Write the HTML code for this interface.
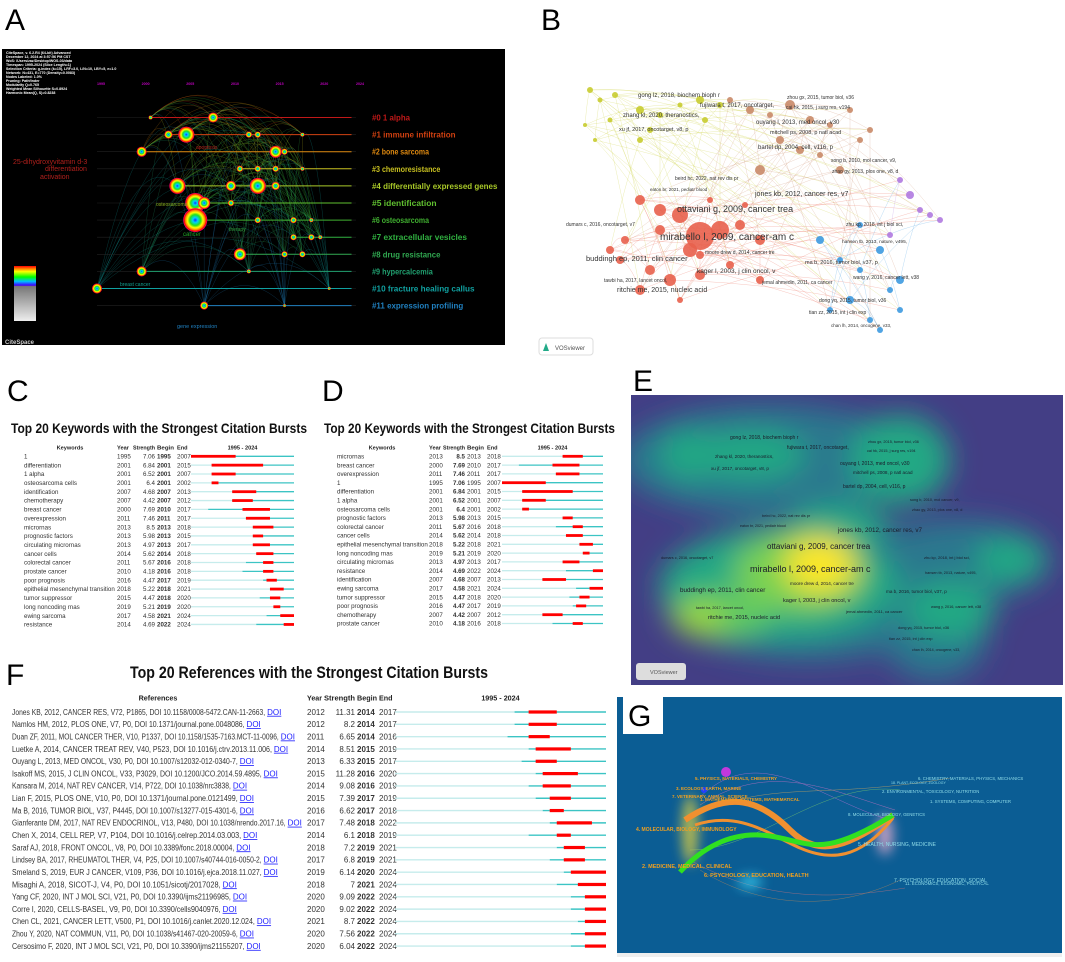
<!DOCTYPE html>
<html><head><meta charset="utf-8">
<style>
html,body{margin:0;padding:0;background:#fff;}
svg{display:block;font-family:"Liberation Sans",sans-serif;}
</style></head>
<body>
<svg id="fig" width="1065" height="962" viewBox="0 0 1065 962" xmlns="http://www.w3.org/2000/svg">
<defs>
  <radialGradient id="ring">
    <stop offset="0" stop-color="#1030ff"/><stop offset="0.2" stop-color="#00d0ff"/>
    <stop offset="0.45" stop-color="#20e020"/><stop offset="0.65" stop-color="#ffff00"/>
    <stop offset="0.82" stop-color="#ff8000"/><stop offset="0.92" stop-color="#ff0000"/><stop offset="1" stop-color="#ff00a0"/>
  </radialGradient>
  <linearGradient id="legendbar" x1="0" y1="0" x2="0" y2="1">
    <stop offset="0" stop-color="#ff0000"/><stop offset="0.1" stop-color="#ffff00"/><stop offset="0.2" stop-color="#00ff00"/>
    <stop offset="0.28" stop-color="#00c0ff"/><stop offset="0.35" stop-color="#4000ff"/><stop offset="0.37" stop-color="#777"/><stop offset="1" stop-color="#eee"/>
  </linearGradient>
  <filter id="blur"><feGaussianBlur stdDeviation="14"/></filter>
  <filter id="blur2"><feGaussianBlur stdDeviation="6"/></filter>
  <clipPath id="clipE"><rect x="631" y="395" width="432" height="290"/></clipPath>
  <clipPath id="clipG"><rect x="617" y="697" width="445" height="256"/></clipPath>
</defs>

<g font-size="30" fill="#000">
<text x="5" y="30">A</text>
<text x="541" y="30">B</text>
<text x="7" y="401">C</text>
<text x="322" y="401">D</text>
<text x="633" y="391">E</text>
<text x="6" y="685">F</text>
</g>

<g id="panelA">
  <rect x="2" y="49" width="503" height="296" fill="#000"/>
  <g fill="#fff" font-size="3.6" font-weight="bold">
    <text x="6" y="54">CiteSpace, v. 6.2.R4 (64-bit) Advanced</text>
    <text x="6" y="58">December 12, 2024 at 3:57:56 PM CST</text>
    <text x="6" y="62">WoS: /Users/zaz/Desktop/WOS-03/data</text>
    <text x="6" y="66">Timespan: 1995-2024 (Slice Length=1)</text>
    <text x="6" y="70">Selection Criteria: g-index (k=15), LRF=3.0, L/N=10, LBY=5, e=1.0</text>
    <text x="6" y="74">Network: N=431, E=770 (Density=0.0083)</text>
    <text x="6" y="78">Nodes Labeled: 1.0%</text>
    <text x="6" y="82">Pruning: Pathfinder</text>
    <text x="6" y="86">Modularity Q=0.765</text>
    <text x="6" y="90">Weighted Mean Silhouette S=0.8924</text>
    <text x="6" y="94">Harmonic Mean(Q, S)=0.8238</text>
  </g>
  <g id="aYears" fill="#c000c0" font-size="3.6" font-weight="bold"></g>
  <g id="aArcs" fill="none"></g>
  <g id="aRows"></g>
  <g id="aNodes"></g>
  <g id="aLabels" font-size="8.5" font-weight="bold"></g>
  <g font-size="7.5">
    <text x="13" y="164" fill="#b0201c" font-size="7">25-dihydroxyvitamin d-3</text>
    <text x="45" y="171" fill="#b0201c" font-size="7">differentiation</text>
    <text x="40" y="179" fill="#b0201c" font-size="7">activation</text>
    <text x="196" y="149" fill="#b0201c" font-size="5">apoptosis</text>
    <text x="156" y="206" fill="#8ab020" font-size="5">osteosarcoma</text>
    <text x="183" y="236" fill="#20a020" font-size="6">cancer</text>
    <text x="229" y="231" fill="#30a040" font-size="5">therapy</text>
    <text x="120" y="286" fill="#10a090" font-size="5">breast cancer</text>
    <text x="177" y="328" fill="#2080c0" font-size="5.5">gene expression</text>
  </g>
  <rect x="14" y="266" width="22" height="55" fill="url(#legendbar)"/>
  <text x="5" y="344" fill="#ccc" font-size="6" font-weight="bold">CiteSpace</text>
</g>

<g id="panelB">
  <g id="bEdges" fill="none" stroke-width="0.4"></g>
  <g id="bNodes"></g>
  <g id="bLabels" fill="#333"></g>
  <rect x="539" y="338" width="54" height="17" rx="3" fill="#fff" stroke="#ddd"/>
  <text x="555" y="350" font-size="6" fill="#555">VOSviewer</text>
  <path d="M543 351 L546 343 L549 351 Z" fill="#2a8"/>
</g>

<g id="panelC"></g>
<g id="panelD"></g>

<g id="panelE">
  <rect x="631" y="395" width="432" height="290" fill="#433e85"/>
  <g clip-path="url(#clipE)">
    <g filter="url(#blur)">
      <ellipse cx="770" cy="460" rx="150" ry="55" fill="#2a788e"/>
      <ellipse cx="810" cy="590" rx="150" ry="70" fill="#2a788e"/>
      <ellipse cx="960" cy="560" rx="90" ry="40" fill="#2a788e"/>
      <ellipse cx="935" cy="640" rx="50" ry="40" fill="#2a788e"/>
      <ellipse cx="690" cy="455" rx="30" ry="25" fill="#22a884"/>
      <ellipse cx="750" cy="455" rx="55" ry="25" fill="#22a884"/>
      <ellipse cx="900" cy="460" rx="50" ry="45" fill="#22a884"/>
      <ellipse cx="780" cy="585" rx="120" ry="55" fill="#22a884"/>
      <ellipse cx="720" cy="615" rx="50" ry="25" fill="#5ec962"/>
      <ellipse cx="840" cy="525" rx="50" ry="20" fill="#22a884"/>
      <ellipse cx="950" cy="610" rx="45" ry="30" fill="#22a884"/>
      <ellipse cx="1010" cy="560" rx="35" ry="22" fill="#22a884"/>
      <ellipse cx="800" cy="572" rx="65" ry="40" fill="#7ad151"/>
      <ellipse cx="820" cy="565" rx="35" ry="28" fill="#fde725"/>
      <ellipse cx="700" cy="618" rx="25" ry="15" fill="#a0da39"/>
    </g>
  </g>
  <g id="eLabels" fill="#1a1a2a"></g>
  <rect x="636" y="663" width="50" height="17" rx="3" fill="#ddd"/>
  <text x="650" y="674" font-size="5.5" fill="#555">VOSviewer</text>
</g>

<g id="panelF"></g>

<g id="panelG">
  <rect x="617" y="697" width="445" height="256" fill="#0b5d94"/>
  <rect x="617" y="953" width="445" height="4" fill="#eee"/>
  <g clip-path="url(#clipG)">
    <g fill="none" stroke-width="0.5" opacity="0.8">
      <path d="M700 797 C760 740 820 800 890 820" stroke="#b070d0"/>
      <path d="M700 805 C770 760 830 790 895 810" stroke="#c070c0"/>
      <path d="M690 860 C760 900 830 900 905 888" stroke="#b07080"/>
      <path d="M700 870 C780 920 860 900 900 880" stroke="#a08060"/>
      <path d="M690 850 C760 850 820 780 900 790" stroke="#70c070"/>
      <path d="M700 812 C780 780 820 800 950 778" stroke="#c0a060"/>
    </g>
    <g filter="url(#blur2)" opacity="0.8">
      <ellipse cx="690" cy="830" rx="8" ry="35" fill="#e0d040"/>
      <ellipse cx="750" cy="882" rx="12" ry="6" fill="#40e0ff"/>
      <ellipse cx="885" cy="835" rx="8" ry="20" fill="#f0b0d0"/>
    </g>
    <path d="M685 820 C730 790 760 800 790 830 S850 845 893 815" fill="none" stroke="#f09030" stroke-width="6"/>
    <path d="M695 825 C740 810 770 835 800 848 S860 860 893 818" fill="none" stroke="#f09030" stroke-width="3"/>
    <path d="M680 872 C700 850 730 830 770 836 S820 860 893 815" fill="none" stroke="#30e020" stroke-width="5"/>
    <circle cx="726" cy="772" r="5" fill="#f030f0" opacity="0.8"/>
    <circle cx="704" cy="790" r="3" fill="#2040ff"/>
  </g>
  <g font-size="4.5" font-weight="bold" fill="#f0a020">
    <text x="695" y="780">5. PHYSICS, MATERIALS, CHEMISTRY</text>
    <text x="676" y="790">3. ECOLOGY, EARTH, MARINE</text>
    <text x="672" y="798">7. VETERINARY, ANIMAL, SCIENCE</text>
    <text x="700" y="801">1. MATHEMATICS, SYSTEMS, MATHEMATICAL</text>
    <text x="636" y="831" font-size="5">4. MOLECULAR, BIOLOGY, IMMUNOLOGY</text>
    <text x="642" y="868" font-size="5.5">2. MEDICINE, MEDICAL, CLINICAL</text>
    <text x="704" y="877" font-size="5.5">6. PSYCHOLOGY, EDUCATION, HEALTH</text>
  </g>
  <g font-size="4.3" fill="#8fdce8">
    <text x="918" y="780">6. CHEMISTRY, MATERIALS, PHYSICS, MECHANICS</text>
    <text x="891" y="784" font-size="3.5">18. PLANT, ECOLOGY, ZOOLOGY</text>
    <text x="882" y="793">2. ENVIRONMENTAL, TOXICOLOGY, NUTRITION</text>
    <text x="930" y="803">1. SYSTEMS, COMPUTING, COMPUTER</text>
    <text x="848" y="816">8. MOLECULAR, BIOLOGY, GENETICS</text>
    <text x="858" y="846" font-size="5">5. HEALTH, NURSING, MEDICINE</text>
    <text x="894" y="882" font-size="5">7. PSYCHOLOGY, EDUCATION, SOCIAL</text>
    <text x="905" y="885">11. ECONOMICS, ECONOMIC, POLITICAL</text>
  </g>
  <rect x="623" y="697" width="40" height="37" fill="#fff"/>
  <text x="628" y="726" font-size="30">G</text>
</g>
</svg>

<script>
const NS='http://www.w3.org/2000/svg';
function mk(tag,attrs,parent,txt){const e=document.createElementNS(NS,tag);for(const k in attrs)e.setAttribute(k,attrs[k]);if(txt!==undefined)e.textContent=txt;parent.appendChild(e);return e;}

const cKeywords=["1","differentiation","1 alpha","osteosarcoma cells","identification","chemotherapy","breast cancer","overexpression","micrornas","prognostic factors","circulating micrornas","cancer cells","colorectal cancer","prostate cancer","poor prognosis","epithelial mesenchymal transition","tumor suppressor","long noncoding rnas","ewing sarcoma","resistance"];
const cYears=[1995,2001,2001,2001,2007,2007,2000,2011,2013,2013,2013,2014,2011,2010,2016,2018,2015,2019,2017,2014];
const cStrength=[7.06,6.84,6.52,6.4,4.68,4.42,7.69,7.46,8.5,5.98,4.97,5.62,5.67,4.18,4.47,5.22,4.47,5.21,4.58,4.69];
const cBegin=[1995,2001,2001,2001,2007,2007,2010,2011,2013,2013,2013,2014,2016,2016,2017,2018,2018,2019,2021,2022];
const cEnd=[2007,2015,2007,2002,2013,2012,2017,2017,2018,2015,2017,2018,2018,2018,2019,2021,2020,2020,2024,2024];

const dKeywords=["micrornas","breast cancer","overexpression","1","differentiation","1 alpha","osteosarcoma cells","prognostic factors","colorectal cancer","cancer cells","epithelial mesenchymal transition","long noncoding rnas","circulating micrornas","resistance","identification","ewing sarcoma","tumor suppressor","poor prognosis","chemotherapy","prostate cancer"];
const dYears=[2013,2000,2011,1995,2001,2001,2001,2013,2011,2014,2018,2019,2013,2014,2007,2017,2015,2016,2007,2010];
const dStrength=[8.5,7.69,7.46,7.06,6.84,6.52,6.4,5.98,5.67,5.62,5.22,5.21,4.97,4.69,4.68,4.58,4.47,4.47,4.42,4.18];
const dBegin=[2013,2010,2011,1995,2001,2001,2001,2013,2016,2014,2018,2019,2013,2022,2007,2021,2018,2017,2007,2016];
const dEnd=[2018,2017,2017,2007,2015,2007,2002,2015,2018,2018,2021,2020,2017,2024,2013,2024,2020,2019,2012,2018];

const fRefs=["Jones KB, 2012, CANCER RES, V72, P1865, DOI 10.1158/0008-5472.CAN-11-2663,","Namlos HM, 2012, PLOS ONE, V7, P0, DOI 10.1371/journal.pone.0048086,","Duan ZF, 2011, MOL CANCER THER, V10, P1337, DOI 10.1158/1535-7163.MCT-11-0096,","Luetke A, 2014, CANCER TREAT REV, V40, P523, DOI 10.1016/j.ctrv.2013.11.006,","Ouyang L, 2013, MED ONCOL, V30, P0, DOI 10.1007/s12032-012-0340-7,","Isakoff MS, 2015, J CLIN ONCOL, V33, P3029, DOI 10.1200/JCO.2014.59.4895,","Kansara M, 2014, NAT REV CANCER, V14, P722, DOI 10.1038/nrc3838,","Lian F, 2015, PLOS ONE, V10, P0, DOI 10.1371/journal.pone.0121499,","Ma B, 2016, TUMOR BIOL, V37, P4445, DOI 10.1007/s13277-015-4301-6,","Gianferante DM, 2017, NAT REV ENDOCRINOL, V13, P480, DOI 10.1038/nrendo.2017.16,","Chen X, 2014, CELL REP, V7, P104, DOI 10.1016/j.celrep.2014.03.003,","Saraf AJ, 2018, FRONT ONCOL, V8, P0, DOI 10.3389/fonc.2018.00004,","Lindsey BA, 2017, RHEUMATOL THER, V4, P25, DOI 10.1007/s40744-016-0050-2,","Smeland S, 2019, EUR J CANCER, V109, P36, DOI 10.1016/j.ejca.2018.11.027,","Misaghi A, 2018, SICOT-J, V4, P0, DOI 10.1051/sicotj/2017028,","Yang CF, 2020, INT J MOL SCI, V21, P0, DOI 10.3390/ijms21196985,","Corre I, 2020, CELLS-BASEL, V9, P0, DOI 10.3390/cells9040976,","Chen CL, 2021, CANCER LETT, V500, P1, DOI 10.1016/j.canlet.2020.12.024,","Zhou Y, 2020, NAT COMMUN, V11, P0, DOI 10.1038/s41467-020-20059-6,","Cersosimo F, 2020, INT J MOL SCI, V21, P0, DOI 10.3390/ijms21155207,"];
const fYears=[2012,2012,2011,2014,2013,2015,2014,2015,2016,2017,2014,2018,2017,2019,2018,2020,2020,2021,2020,2020];
const fStrength=[11.31,8.2,6.65,8.51,6.33,11.28,9.08,7.39,6.62,7.48,6.1,7.2,6.8,6.14,7,9.09,9.02,8.7,7.56,6.04];
const fBegin=[2014,2014,2014,2015,2015,2016,2016,2017,2017,2018,2018,2019,2019,2020,2021,2022,2022,2022,2022,2022];
const fEnd=[2017,2017,2016,2019,2017,2020,2019,2019,2018,2022,2019,2021,2021,2024,2024,2024,2024,2024,2024,2024];

const Y0=1995, Y1=2024;
function burstTable(g,o){
  const n=o.labels.length;
  const xs=yr=>o.bx0+(yr-Y0)*(o.bx1-o.bx0)/(Y1-Y0+1);
  const t=mk('text',{x:o.tx,y:o.ty,'font-size':o.tfs,'font-weight':'bold',fill:'#111',textLength:o.tw,lengthAdjust:'spacingAndGlyphs'},g,o.title);
  
  
  const hf={'font-size':o.hfs,'font-weight':'bold',fill:'#222'};
  mk('text',Object.assign({x:o.lblHead,y:o.hy,'text-anchor':'middle'},hf),g,o.lblName);
  mk('text',Object.assign({x:o.yx,y:o.hy,textLength:o.hw[0],lengthAdjust:'spacingAndGlyphs'},hf),g,'Year');
  mk('text',Object.assign({x:o.sx-o.hw[1],y:o.hy,textLength:o.hw[1],lengthAdjust:'spacingAndGlyphs'},hf),g,'Strength');
  mk('text',Object.assign({x:o.bgx,y:o.hy,textLength:o.hw[2],lengthAdjust:'spacingAndGlyphs'},hf),g,'Begin');
  mk('text',Object.assign({x:o.ex,y:o.hy},hf),g,'End');
  mk('text',Object.assign({x:(o.bx0+o.bx1)/2,y:o.hy,'text-anchor':'middle'},hf),g,'1995 - 2024');
  for(let i=0;i<n;i++){
    const cy=o.ry0+i*o.rdy, by=cy+o.rfs*0.35;
    const row=mk('g',{},g);
    
    
    const f={'font-size':o.rfs,fill:'#333'};
    if(o.refs){
      const len=o.labels[i].length*o.cw;
      mk('text',Object.assign({x:o.lx,y:by,textLength:len,lengthAdjust:'spacingAndGlyphs'},f),row,o.labels[i]);
      const d=mk('text',{x:o.lx+len+2,y:by,'font-size':o.rfs,fill:'#1a1aff','text-decoration':'underline'},row,'DOI');
      
      
    } else {
      const a=Object.assign({x:o.lx,y:by},f);
      if(o.labels[i].length>24){a.textLength=o.labels[i].length*2.75;a.lengthAdjust='spacingAndGlyphs';}
      mk('text',a,row,o.labels[i]);
    }
    mk('text',Object.assign({x:o.yx,y:by},f),row,String(o.years[i]));
    mk('text',Object.assign({x:o.sx,y:by,'text-anchor':'end','font-weight':o.boldS?'bold':'normal'},f),row,String(o.strength[i]));
    mk('text',Object.assign({x:o.bgx,y:by,'font-weight':o.boldS?'normal':'bold'},f),row,String(o.begin[i]));
    mk('text',Object.assign({x:o.ex,y:by},f),row,String(o.end[i]));
    mk('line',{x1:o.bx0,x2:xs(o.years[i]),y1:cy,y2:cy,stroke:'#c6ecec','stroke-width':o.lw},row);
    mk('line',{x1:xs(o.years[i]),x2:o.bx1,y1:cy,y2:cy,stroke:'#3cc4c4','stroke-width':o.lw},row);
    const r=mk('rect',{x:xs(o.begin[i]),y:cy-o.rh/2,width:xs(o.end[i]+1)-xs(o.begin[i]),height:o.rh,fill:'#ff0000'},row);
    
    
  }
}
burstTable(document.getElementById('panelC'),{title:'Top 20 Keywords with the Strongest Citation Bursts',tx:11,ty:433,tfs:14,tw:296,
  lblName:'Keywords',lblHead:70,hy:449.5,hfs:5.6,hw:[12,22,17],labels:cKeywords,years:cYears,strength:cStrength,begin:cBegin,end:cEnd,
  lx:24,yx:117,sx:155,bgx:157,ex:177,bx0:191,bx1:294,ry0:456.3,rdy:8.85,rfs:6.2,lw:1.3,rh:2.8,boldS:false});
burstTable(document.getElementById('panelD'),{title:'Top 20 Keywords with the Strongest Citation Bursts',tx:324,ty:433,tfs:14,tw:291,
  lblName:'Keywords',lblHead:382,hy:449.5,hfs:5.6,hw:[12,22,17],labels:dKeywords,years:dYears,strength:dStrength,begin:dBegin,end:dEnd,
  lx:337,yx:429,sx:465,bgx:467,ex:487,bx0:502,bx1:603,ry0:456.3,rdy:8.8,rfs:6.2,lw:1.3,rh:2.8,boldS:true});
burstTable(document.getElementById('panelF'),{title:'Top 20 References with the Strongest Citation Bursts',tx:130,ty:678,tfs:17,tw:358,
  lblName:'References',lblHead:158,hy:700.5,hfs:7.2,hw:[15,31,20],labels:fRefs,years:fYears,strength:fStrength,begin:fBegin,end:fEnd,refs:true,cw:3.42,
  lx:12,yx:307,sx:355,bgx:357,ex:379,bx0:395,bx1:606,ry0:712,rdy:12.32,rfs:8,lw:1.4,rh:3.2,boldS:false});

const aClusters=["#0 1 alpha","#1 immune infiltration","#2 bone sarcoma","#3 chemoresistance","#4 differentially expressed genes","#5 identification","#6 osteosarcoma","#7 extracellular vesicles","#8 drug resistance","#9 hypercalcemia","#10 fracture healing callus","#11 expression profiling"];
const aClusterColors=["#c01818","#d04010","#e08a10","#c8c020","#a8c828","#60c030","#40b030","#30b040","#30a850","#20a070","#10a0a0","#2080c0"];
const aTickYears=[1995,2000,2005,2010,2015,2020,2024];
const aNodeRow=[0,0,1,1,1,1,1,2,2,2,3,3,3,3,4,4,4,4,5,5,5,6,6,6,6,7,7,7,8,8,8,9,9,10,10,11,11];
const aNodeYear=[2008,2001,2005,2003,2012,2013,2018,2000,2015,2016,2011,2013,2015,2018,2004,2013,2015,2010,2006,2007,2010,2006,2013,2017,2019,2017,2019,2020,2011,2016,2018,2000,2012,1995,2021,2007,2016];
const aNodeSize=[5,2,8,4,3,3,2,5,6,3,3,3,3,2,8,8,4,5,10,6,3,12,3,3,2,3,3,2,6,3,3,5,2,5,1.5,4,1.5];
(function(){
  const ax=yr=>97+(yr-1995)*(356-97)/29, ay=r=>117.5+r*17.1;
  const gy=document.getElementById('aYears');
  aTickYears.forEach(y=>mk('text',{x:ax(y)+4,y:85,'text-anchor':'middle'},gy,String(y)));
  const arcs=document.getElementById('aArcs');
  for(let i=0;i<aNodeRow.length;i++)for(let j=i+1;j<aNodeRow.length;j+=3){
    const x1=ax(aNodeYear[i]),x2=ax(aNodeYear[j]),y1=ay(aNodeRow[i]),y2=ay(aNodeRow[j]);
    const h=Math.abs(x2-x1)*0.4+8;
    mk('path',{d:`M${x1} ${y1} Q${(x1+x2)/2} ${Math.min(y1,y2)-h} ${x2} ${y2}`,stroke:aClusterColors[aNodeRow[j]],'stroke-opacity':0.35,'stroke-width':0.5},arcs);
  }
  const rows=document.getElementById('aRows'), lab=document.getElementById('aLabels');
  aClusters.forEach((c,k)=>{
    mk('line',{x1:97,x2:356,y1:ay(k),y2:ay(k),stroke:'#222','stroke-width':0.6},rows);
    const ys=aNodeRow.map((r,i)=>r===k?aNodeYear[i]:null).filter(v=>v!==null);
    const mn=Math.min(...ys);
    mk('line',{x1:ax(mn),x2:ax(2023.5),y1:ay(k),y2:ay(k),stroke:aClusterColors[k],'stroke-width':1},rows);
    const t=mk('text',{x:372,y:ay(k)+3,fill:aClusterColors[k],textLength:c.length*3.8,lengthAdjust:'spacingAndGlyphs'},lab,c);
    
    
  });
  const nodes=document.getElementById('aNodes');
  for(let i=0;i<aNodeRow.length;i++){
    const c=mk('circle',{cx:ax(aNodeYear[i]),cy:ay(aNodeRow[i]),r:aNodeSize[i],fill:'url(#ring)'},nodes);
    
    
  }
})();

const bClusterColors={y:"#c8cc30",b:"#c98a68",r:"#e8604c",u:"#3d9ae0",p:"#b07ae0"};
const bNodeCluster=["y","y","y","y","y","y","y","y","y","y","y","y","y","y","b","b","b","b","b","b","b","b","b","b","b","b","b","b","r","r","r","r","r","r","r","r","r","r","r","r","r","r","r","r","r","r","r","r","r","r","u","u","u","u","u","u","u","u","u","u","u","u","p","p","p","p","p","p"];
const bNodeX=[590,600,615,640,660,680,700,720,610,650,585,595,640,705,730,750,770,790,810,830,850,860,780,800,820,760,840,870,640,660,680,700,720,740,760,690,620,650,670,700,730,640,610,680,760,710,660,625,745,700,820,840,860,880,890,850,830,870,900,900,880,860,900,910,920,930,940,890];
const bNodeY=[90,100,95,110,115,105,100,105,120,130,125,140,140,120,100,110,115,105,120,125,110,140,140,150,155,170,170,130,200,210,215,236,230,225,240,250,260,270,280,275,265,290,250,300,280,200,230,240,205,255,240,260,270,250,290,300,310,320,310,280,330,225,180,195,210,215,220,235];
const bNodeR=[3,2.5,3,4,3,2.5,4,3,2.5,3,2,2,3,3,3,4,3,5,4,3,3,3,4,4,3,5,4,3,5,6,8,14,9,5,5,7,4,5,6,5,4,5,4,3,4,3,5,4,3,4,4,3,3,4,3,4,3,3,3,4,3,3,3,4,3,3,3,3];
(function(){
  const e=document.getElementById('bEdges'), n=document.getElementById('bNodes');
  for(let i=0;i<bNodeX.length;i++)for(let j=i+1;j<bNodeX.length;j++){
    if((i*7+j*3)%5!==0)continue;
    const same=bNodeCluster[i]===bNodeCluster[j];
    if(!same&&(i+j)%3!==0)continue;
    mk('path',{d:`M${bNodeX[i]} ${bNodeY[i]} Q${(bNodeX[i]+bNodeX[j])/2} ${(bNodeY[i]+bNodeY[j])/2-12} ${bNodeX[j]} ${bNodeY[j]}`,stroke:bClusterColors[bNodeCluster[i]],'stroke-opacity':0.45},e);
  }
  for(let i=0;i<bNodeX.length;i++){
    const c=mk('circle',{cx:bNodeX[i],cy:bNodeY[i],r:bNodeR[i],fill:bClusterColors[bNodeCluster[i]],'fill-opacity':0.9},n);
    
    
  }
})();
const netLabels=["ottaviani g, 2009, cancer trea","mirabello l, 2009, cancer-am c","buddingh ep, 2011, clin cancer","jones kb, 2012, cancer res, v7","gong lz, 2018, biochem bioph r","fujiwara t, 2017, oncotarget,","zhang kl, 2020, theranostics,","xu jf, 2017, oncotarget, v8, p","ouyang l, 2013, med oncol, v30","mitchell ps, 2008, p natl acad","bartel dp, 2004, cell, v116, p","ritchie me, 2015, nucleic acid","kager l, 2003, j clin oncol, v","ma b, 2016, tumor biol, v37, p","moore drew d, 2014, cancer tre","zhou gx, 2015, tumor biol, v36","cai hk, 2015, j surg res, v194","song b, 2010, mol cancer, v9,","zhao gy, 2013, plos one, v8, d","zhu kp, 2018, int j biol sci,","hansen tb, 2013, nature, v495,","wang y, 2016, cancer lett, v38","dong yq, 2015, tumor biol, v36","tian zz, 2015, int j clin exp","dumars c, 2016, oncotarget, v7","tawbi ha, 2017, lancet oncol,","jemal ahmedin, 2011, ca cancer","beird hc, 2022, nat rev dis pr","eaton br, 2021, pediatr blood","chan lh, 2014, oncogene, v33,"];
const bLabelX=[677,660,586,755,638,700,623,619,756,770,758,617,697,805,705,787,786,831,832,846,842,853,819,809,566,604,762,675,650,831];
const bLabelY=[212,240,261,196,97,107,117,131,124,134,149,292,273,264,254,99,109,162,173,226,243,279,302,314,226,282,284,180,191,327];
const bLabelS=[9,10,7.5,7,6,6,6,5.5,6,5.5,6,7,6.5,5.5,5,5,5,5,5,5,4.8,5,5,5,5,5,5,5,4.5,4.5];
const eLabelX=[767,750,680,838,730,787,715,711,840,853,843,708,783,886,790,868,867,910,912,924,925,931,898,889,661,696,846,762,740,912];
const eLabelY=[549,572,592,532,439,449,458,470,465,474,488,619,602,593,585,443,452,501,511,559,574,608,629,640,559,609,613,517,527,651];
const eLabelS=[8,9,6.3,6.3,5,5,4.6,4.6,5,4.6,5,5.6,5.6,4.6,4.6,3.8,3.8,3.8,3.8,4,3.8,3.8,3.8,3.8,3.8,3.8,4,3.8,3.6,3.6];
(function(){
  const gb=document.getElementById('bLabels'), ge=document.getElementById('eLabels');
  netLabels.forEach((t,i)=>{
    const a=mk('text',{x:bLabelX[i],y:bLabelY[i],'font-size':bLabelS[i]},gb,t);
    
    
    const b=mk('text',{x:eLabelX[i],y:eLabelY[i],'font-size':eLabelS[i]},ge,t);
    
    
  });
})();
</script>
</body></html>
